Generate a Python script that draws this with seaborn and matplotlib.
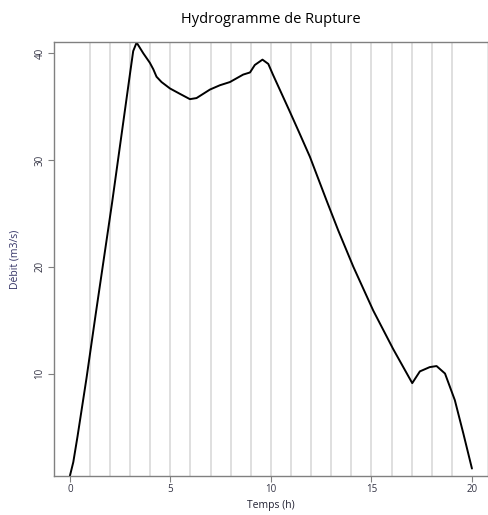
import numpy as np
import pandas as pd
import matplotlib
matplotlib.use('Agg')
import matplotlib.pyplot as plt
import seaborn as sns

# Hydrogramme
temps = [0, 0.17, 0.38, 0.83, 1.28, 2.1, 3.0, 3.15, 3.32, 3.65, 3.98, 4.15, 4.31,
         4.56, 4.98, 5.47, 5.97, 6.3, 6.97, 7.46, 7.96, 8.62, 8.96, 9.2, 9.58,
         9.87, 10.1, 10.9, 11.4, 11.94, 12.77, 13.35, 14.1, 15.09, 16.08, 17.03,
         17.41, 17.9, 18.24, 18.66, 19.15, 19.57, 20.0]
debit = [0.4, 1.7, 4.1, 9.6, 15.5, 26.0, 38.2, 40.2, 41.0, 40.0, 39.1, 38.5, 37.8,
         37.3, 36.7, 36.2, 35.7, 35.8, 36.6, 37.0, 37.3, 38.0, 38.2, 38.9, 39.4,
         39.0, 38.0, 34.7, 32.6, 30.3, 26.2, 23.4, 20.0, 15.9, 12.3, 9.1,
         10.2, 10.6, 10.7, 10.0, 7.5, 4.4, 1.1]
x_ticks = [0, 5, 10, 15, 20]
y_ticks = [10, 20, 30, 40]
heures = list(range(1, 20))

df = pd.DataFrame({'Temps': temps, 'Debit': debit})

sns.set_style('white')
plt.rcParams['font.family'] = ['Open Sans', 'DejaVu Sans']

fig = plt.figure(figsize=(4.89, 5.15), dpi=100)
ax = fig.add_axes([0.110, 0.0757, 0.888, 0.8427])

for h in heures:
    ax.axvline(h, color='#d9d9d9', lw=1.2, zorder=0)

sns.lineplot(data=df, x='Temps', y='Debit', sort=False, estimator=None,
             color='black', lw=1.4, ax=ax)

ax.set_xlim(-0.8, 20.8)
ax.set_ylim(0.4, 41.05)
ax.set_xticks(x_ticks)
ax.set_yticks(y_ticks)
ax.set_xticklabels([str(v) for v in x_ticks], fontsize=7, color='#333344')
ax.set_yticklabels([str(v) for v in y_ticks], fontsize=7, color='#333344',
                   rotation=90, va='center')
ax.tick_params(axis='both', length=4, width=0.8, color='#808080', pad=2,
               bottom=True, left=True)
for s in ax.spines.values():
    s.set_color('#808080')
    s.set_linewidth(1.0)

ax.set_xlabel('Temps (h)', fontsize=7.5, color='#222233', labelpad=3)
ax.set_ylabel('Débit (m3/s)', fontsize=7.5, color='#333366', labelpad=10)
ax.set_title('Hydrogramme de Rupture', fontsize=10.5, color='black', pad=14)

fig.savefig('out.png', dpi=100)
